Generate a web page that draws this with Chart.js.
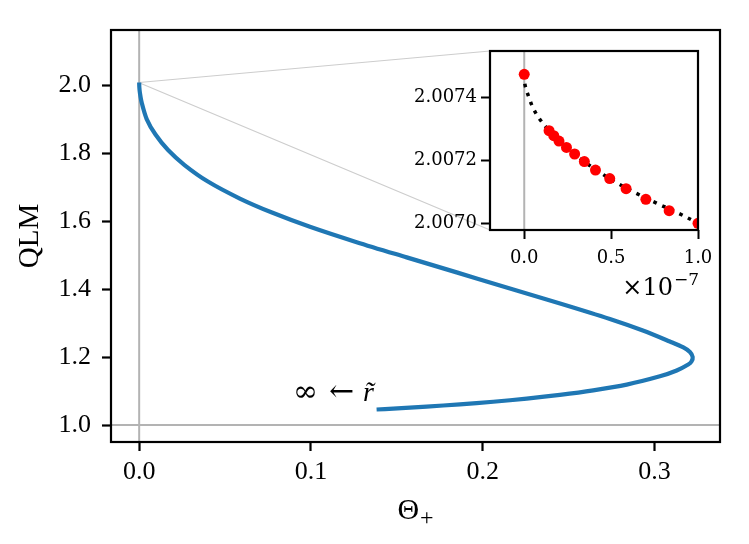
<!DOCTYPE html>
<html><head><meta charset="utf-8">
<script src="https://cdn.jsdelivr.net/npm/chart.js@4/dist/chart.umd.min.js"></script>
<style>
html,body{margin:0;padding:0;background:#fff;}
#wrap{position:relative;width:749px;height:544px;overflow:hidden;}
#main{position:absolute;left:0;top:0;}
#inset{position:absolute;left:380px;top:40px;}
</style></head><body>
<div id="wrap"><canvas id="main" width="749" height="544"></canvas><canvas id="inset" width="335" height="265"></canvas></div>
<script>
// ---------- main panel data ----------
const curveTheta = [0, 0.0001, 0.0004, 0.00146, 0.00437, 0.0095, 0.0168, 0.0264, 0.0400, 0.0586, 0.0773, 0.0994, 0.1266, 0.1557, 0.1848, 0.2100, 0.2450, 0.2740, 0.2932, 0.3089, 0.3165, 0.3206, 0.3222, 0.3215, 0.3196, 0.3129, 0.3031, 0.2838, 0.2643, 0.2449, 0.2256, 0.2061, 0.1867, 0.1673, 0.1479, 0.1382];
const curveQLM   = [2.00747, 1.993, 1.978, 1.9485, 1.9000, 1.8544, 1.8088, 1.7647, 1.7162, 1.6662, 1.6250, 1.5832, 1.5379, 1.4931, 1.4490, 1.4101, 1.3574, 1.3118, 1.2779, 1.2456, 1.2288, 1.2147, 1.2000, 1.1868, 1.1779, 1.1603, 1.1432, 1.1188, 1.1018, 1.0885, 1.0776, 1.0685, 1.0609, 1.0541, 1.0482, 1.0456];
const mainXTicks = [0.0, 0.1, 0.2, 0.3];
const mainYTicks = [1.0, 1.2, 1.4, 1.6, 1.8, 2.0];
const mainXRange = [-0.0164, 0.3381];
const mainYRange = [0.95, 2.162];
const refTheta = 0.0;
const refQLM = 1.0;
const annotTheta = 0.0895;
const annotQLM = 1.071;
const xLabelMain = 'Θ';
const xLabelSub = '+';
const yLabel = 'QLM';

// ---------- inset data ----------
const insetTheta = [0, 0.143e-7, 0.170e-7, 0.200e-7, 0.243e-7, 0.290e-7, 0.346e-7, 0.410e-7, 0.492e-7, 0.586e-7, 0.700e-7, 0.834e-7, 1.0e-7];
const insetQLM   = [2.007473, 2.007294, 2.007278, 2.007261, 2.007241, 2.007220, 2.007196, 2.007169, 2.007142, 2.007110, 2.007076, 2.007040, 2.007000];
const fitTheta = [0, 0.005e-7, 0.0287e-7, 0.0517e-7, 0.0862e-7, 0.143e-7, 0.25e-7, 0.37e-7, 0.521e-7, 0.646e-7, 0.761e-7, 0.895e-7, 1.0e-7];
const fitQLM   = [2.007473, 2.007438, 2.007397, 2.007365, 2.007333, 2.007294, 2.007237, 2.007186, 2.007132, 2.007095, 2.007064, 2.007030, 2.007000];
const insetXTicks = [0, 0.5e-7, 1.0e-7];
const insetYTicks = [2.0070, 2.0072, 2.0074];
const insetXRange = [-0.197e-7, 1.0e-7];
const insetYRange = [2.0069787, 2.007547];
const insetXScaleExp = -7;

const pts = (xs, ys) => xs.map((v, i) => ({x: v, y: ys[i]}));
const SERIF = '"Liberation Serif", "DejaVu Serif", serif';
const SERIF2 = '"DejaVu Serif", serif';
const noPad = s => { s.paddingLeft = 0; s.paddingRight = 0; s.paddingTop = 0; s.paddingBottom = 0; };

// ---------- inset chart ----------
const insetCanvas = document.getElementById('inset');
const insetDecor = {
  id: 'insetDecor',
  beforeDraw(chart) {
    const {ctx, chartArea: a} = chart;
    ctx.save(); ctx.fillStyle = '#fff'; ctx.fillRect(a.left, a.top, a.width, a.height); ctx.restore();
  },
  afterDraw(chart) {
    const {ctx, chartArea: a} = chart;
    ctx.save();
    ctx.strokeStyle = '#000'; ctx.lineWidth = 2.2;
    ctx.strokeRect(a.left, a.top, a.width, a.height);
    ctx.fillStyle = '#000';
    ctx.textBaseline = 'alphabetic';
    ctx.font = '17px ' + SERIF2;
    const sup = '\u2212' + Math.abs(insetXScaleExp);
    const supW = ctx.measureText(sup).width;
    ctx.textAlign = 'right';
    ctx.fillText(sup, a.right + 1, a.bottom + 55);
    ctx.font = '24px ' + SERIF2;
    ctx.fillText('\u00d710', a.right - supW, a.bottom + 65);
    ctx.restore();
  }
};
const insetChart = new Chart(insetCanvas, {
  type: 'scatter',
  data: {
    datasets: [
      {data: pts(insetTheta, insetQLM), showLine: false, pointRadius: 5.5, pointBackgroundColor: '#ff0000', pointBorderWidth: 0, pointBorderColor: '#ff0000'},
      {data: pts(fitTheta, fitQLM), showLine: true, pointRadius: 0, borderColor: '#000', borderWidth: 3.5, borderDash: [3.5, 6], borderCapStyle: 'butt', tension: 0.35},
      {data: [{x: refTheta, y: insetYRange[0]}, {x: refTheta, y: insetYRange[1]}], showLine: true, pointRadius: 0, borderColor: '#b3b3b3', borderWidth: 2}
    ]
  },
  options: {
    responsive: false, animation: false, events: [],
    layout: {padding: {left: 0, top: 11, right: 17, bottom: 0}},
    plugins: {legend: {display: false}, tooltip: {enabled: false}},
    scales: {
      x: {
        type: 'linear', min: insetXRange[0], max: insetXRange[1],
        afterBuildTicks: s => { s.ticks = insetXTicks.map(v => ({value: v})); },
        afterFit: s => { s.height = 75; noPad(s); },
        grid: {drawOnChartArea: false, drawTicks: true, tickLength: 9, tickWidth: 2, tickColor: '#000'},
        border: {display: false},
        ticks: {color: '#000', padding: 9, font: {family: SERIF2, size: 18}, maxRotation: 0,
          callback: v => (v / Math.pow(10, insetXScaleExp)).toFixed(1)}
      },
      y: {
        type: 'linear', min: insetYRange[0], max: insetYRange[1],
        afterBuildTicks: s => { s.ticks = insetYTicks.map(v => ({value: v})); },
        afterFit: s => { s.width = 110; noPad(s); },
        grid: {drawOnChartArea: false, drawTicks: true, tickLength: 9, tickWidth: 2, tickColor: '#000'},
        border: {display: false},
        ticks: {color: '#000', padding: 4, font: {family: SERIF2, size: 18}, callback: v => v.toFixed(4)}
      }
    }
  },
  plugins: [insetDecor]
});

// ---------- main chart ----------
const mainDecor = {
  id: 'mainDecor',
  beforeDatasetsDraw(chart) {
    const {ctx, chartArea: a, scales: {x, y}} = chart;
    const ia = insetChart.chartArea;
    const ox = insetCanvas.offsetLeft, oy = insetCanvas.offsetTop;
    const x0 = x.getPixelForValue(insetXRange[0]);
    const yT = y.getPixelForValue(insetYRange[1]);
    const yB = y.getPixelForValue(insetYRange[0]);
    ctx.save();
    ctx.beginPath(); ctx.rect(a.left, a.top, a.width, a.height); ctx.clip();
    ctx.strokeStyle = 'rgba(0,0,0,0.2)'; ctx.lineWidth = 1.2;
    ctx.beginPath();
    ctx.moveTo(x0, yT); ctx.lineTo(ox + ia.left, oy + ia.top);
    ctx.moveTo(x0, yB); ctx.lineTo(ox + ia.left, oy + ia.bottom);
    ctx.stroke();
    ctx.restore();
  },
  afterDraw(chart) {
    const {ctx, chartArea: a, scales: {x, y}} = chart;
    ctx.save();
    ctx.strokeStyle = '#000'; ctx.lineWidth = 2.2;
    ctx.strokeRect(a.left, a.top, a.width, a.height);
    ctx.fillStyle = '#000';
    // y label
    ctx.save();
    ctx.translate(a.left - 81, (a.top + a.bottom) / 2);
    ctx.rotate(-Math.PI / 2);
    ctx.font = '29px ' + SERIF; ctx.textAlign = 'center'; ctx.textBaseline = 'middle';
    ctx.fillText(yLabel, 0, 0);
    ctx.restore();
    // x label with subscript
    ctx.textBaseline = 'alphabetic'; ctx.textAlign = 'left';
    ctx.font = '30px ' + SERIF;
    const wT = ctx.measureText(xLabelMain).width;
    ctx.font = '24px ' + SERIF;
    const wS = ctx.measureText(xLabelSub).width;
    const cx = (a.left + a.right) / 2 - (wT + wS + 1) / 2;
    ctx.font = '30px ' + SERIF;
    ctx.fillText(xLabelMain, cx, a.bottom + 77);
    ctx.font = '24px ' + SERIF;
    ctx.fillText(xLabelSub, cx + wT + 1, a.bottom + 83);
    // annotation  ∞ ← r̃
    const ax = x.getPixelForValue(annotTheta), ay = y.getPixelForValue(annotQLM);
    ctx.font = '30px ' + SERIF2;
    ctx.fillText('\u221e', ax, ay);
    ctx.fillText('\u2190', ax + 36, ay);
    ctx.font = 'italic 28px ' + SERIF;
    ctx.fillText('r\u0303', ax + 70, ay);
    ctx.restore();
  }
};

new Chart(document.getElementById('main'), {
  type: 'scatter',
  data: {
    datasets: [
      {data: pts(curveTheta, curveQLM), showLine: true, pointRadius: 0, borderColor: '#1f77b4', borderWidth: 4.2, tension: 0.3, borderCapStyle: 'butt', borderJoinStyle: 'round'},
      {data: [{x: refTheta, y: mainYRange[0]}, {x: refTheta, y: mainYRange[1]}], showLine: true, pointRadius: 0, borderColor: '#b3b3b3', borderWidth: 2},
      {data: [{x: mainXRange[0], y: refQLM}, {x: mainXRange[1], y: refQLM}], showLine: true, pointRadius: 0, borderColor: '#b3b3b3', borderWidth: 2}
    ]
  },
  options: {
    responsive: false, animation: false, events: [],
    layout: {padding: {left: 0, top: 30, right: 29, bottom: 0}},
    plugins: {legend: {display: false}, tooltip: {enabled: false}},
    scales: {
      x: {
        type: 'linear', min: mainXRange[0], max: mainXRange[1],
        afterBuildTicks: s => { s.ticks = mainXTicks.map(v => ({value: v})); },
        afterFit: s => { s.height = 102; noPad(s); },
        grid: {drawOnChartArea: false, drawTicks: true, tickLength: 9, tickWidth: 2.2, tickColor: '#000'},
        border: {display: false},
        ticks: {color: '#000', padding: 6, font: {family: SERIF, size: 26}, maxRotation: 0, callback: v => v.toFixed(1)}
      },
      y: {
        type: 'linear', min: mainYRange[0], max: mainYRange[1],
        afterBuildTicks: s => { s.ticks = mainYTicks.map(v => ({value: v})); },
        afterFit: s => { s.width = 111; noPad(s); },
        grid: {drawOnChartArea: false, drawTicks: true, tickLength: 9, tickWidth: 2.2, tickColor: '#000'},
        border: {display: false},
        ticks: {color: '#000', padding: 11, font: {family: SERIF, size: 26}, callback: v => v.toFixed(1)}
      }
    }
  },
  plugins: [mainDecor]
});
</script>
</body></html>
